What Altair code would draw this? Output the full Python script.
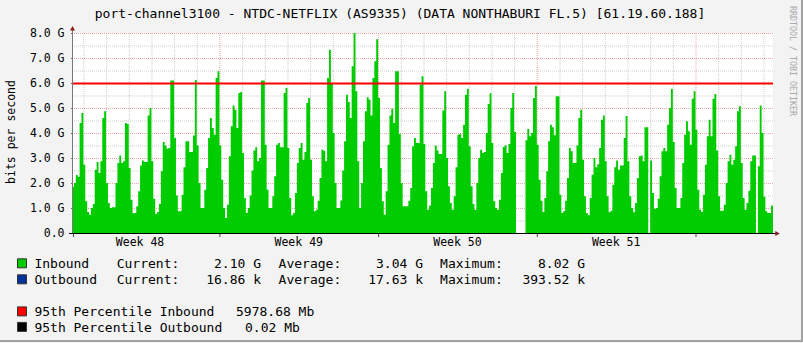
import altair as alt
import pandas as pd

# ---------------- data (values in Gbit/s, one value every 2 hours) ----------------
# week 48 starts Monday 12:00, later weeks start Monday 00:00
week48 = [1.85, 2.0, 2.32, 2.25, 4.4, 4.8,
          2.73, 1.27, 0.84, 0.73, 1.0, 1.16, 2.53, 2.84, 2.4, 2.87, 4.6, 4.87,
          2.0, 1.2, 1.0, 1.03, 1.03, 2.0, 2.8, 3.1, 2.8, 2.87, 4.4, 4.36,
          2.6, 1.33, 0.79, 0.8, 1.07, 1.67, 2.7, 2.9, 2.84, 2.84, 4.7, 5.0,
          2.87, 1.37, 0.76, 0.84, 1.16, 2.47, 3.64, 3.5, 3.37, 3.4, 6.1, 6.1,
          3.8, 1.5, 0.87, 0.87, 1.53, 2.63, 3.67, 3.67, 3.24, 3.24, 3.9, 6.12,
          3.5, 2.0, 1.0, 1.0, 1.73, 2.6, 3.8, 4.6, 4.2, 3.93, 6.2, 6.47]
week49 = [3.5, 2.13, 1.0, 0.6, 1.13, 3.07, 4.27, 5.1, 4.93, 4.2, 5.6, 5.64,
          3.2, 1.4, 0.8, 1.0, 1.5, 2.5, 3.3, 3.43, 2.87, 3.0, 6.1, 6.1,
          3.53, 1.73, 1.0, 1.0, 1.47, 2.27, 3.53, 3.6, 3.43, 3.43, 5.6, 5.8,
          3.4, 1.4, 0.71, 0.8, 1.6, 2.8, 3.4, 3.6, 2.93, 3.24, 5.2, 5.4,
          2.93, 1.47, 0.87, 0.93, 1.29, 2.2, 3.33, 3.29, 2.87, 6.2, 7.33, 6.0,
          4.0, 2.0, 1.0, 1.0, 1.3, 2.5, 3.67, 5.53, 5.24, 4.6, 6.67, 8.0,
          5.67, 2.87, 1.0, 2.0, 3.67, 4.87, 5.43, 5.33, 4.7, 6.2, 6.87, 7.75]
week50 = [5.4, 2.6, 1.27, 0.73, 1.67, 3.53, 4.7, 4.97, 4.4, 6.47, 6.47, 3.96,
          2.0, 1.07, 1.07, 1.07, 1.29, 1.8, 3.47, 3.8, 3.6, 3.6, 5.93, 6.27,
          3.56, 1.67, 0.93, 1.1, 1.8, 2.8, 3.5, 3.3, 3.16, 3.16, 4.9, 5.67,
          3.0, 1.87, 1.2, 0.93, 1.47, 2.63, 3.93, 3.96, 3.8, 4.33, 5.53, 5.77,
          3.47, 1.87, 1.16, 0.93, 2.0, 3.0, 3.33, 3.2, 3.24, 4.0, 5.16, 5.59,
          3.6, 1.27, 1.0, 0.93, 1.33, 2.4, 3.44, 3.51, 3.2, 3.56, 5.0, 5.6,
          4.04, 0, 0, 0, 0, 0, 3.71, 4.16, 3.87, 4.0, 5.4, 5.88]
week51 = [3.53, 2.13, 1.29, 0.84, 1.4, 2.47, 3.67, 4.33, 4.23, 3.91, 5.47, 5.47,
          1.53, 0.8, 0.87, 1.29, 2.2, 3.4, 3.27, 2.8, 2.8, 3.5, 4.6, 4.93,
          2.93, 1.47, 0.8, 0.71, 1.4, 2.33, 3.0, 2.63, 2.75, 3.4, 4.53, 4.7,
          2.87, 1.47, 0.83, 0.89, 1.93, 2.63, 2.9, 2.53, 2.7, 2.7, 3.8, 4.68,
          2.87, 1.47, 1.0, 0.83, 1.2, 2.2, 3.07, 3.1, 2.87, 4.23, 4.23, 0,
          2.9, 1.6, 0.97, 1.0, 1.37, 2.27, 3.27, 3.4, 3.27, 4.33, 5.0, 5.76,
          3.64, 1.8, 1.0, 1.0, 1.4, 2.8, 3.93, 4.47, 4.07, 3.53, 5.37, 5.67]
week52 = [4.13, 1.73, 0.93, 0.84, 1.53, 2.73, 3.87, 4.53, 3.87, 5.37, 5.56, 3.3,
          1.47, 0.89, 0.89, 1.13, 2.0, 2.87, 3.13, 2.73, 2.93, 3.47, 4.87, 5.07,
          2.8, 1.4, 0.93, 1.2, 1.69, 2.87, 3.1, 3.1, 0, 2.67, 5.1, 4.0,
          1.45, 0.87, 0.8, 0.8, 1.1, 1.1]

week_names = ["Week 48", "Week 49", "Week 50", "Week 51"]
y_tick_values = [0, 1, 2, 3, 4, 5, 6, 7, 8]
y_tick_labels = ["0.0", "1.0 G", "2.0 G", "3.0 G", "4.0 G", "5.0 G", "6.0 G", "7.0 G", "8.0 G"]
p95_inbound_gbps = 5.97868

title_text = "port-channel3100 - NTDC-NETFLIX (AS9335) (DATA NONTHABURI FL.5) [61.19.60.188]"
y_title = "bits per second"
watermark = "RRDTOOL / TOBI OETIKER"
row_labels = ["Inbound", "Outbound"]
current_vals = ["2.10 G", "16.86 k"]
average_vals = ["3.04 G", "17.63 k"]
maximum_vals = ["8.02 G", "393.52 k"]
pct_labels = ["95th Percentile Inbound", "95th Percentile Outbound"]
pct_vals = ["5978.68 Mb", "0.02 Mb"]
swatch_colors = ["#00CC00", "#00339A", "#FF0000", "#000000"]

# ---------------- build tables ----------------
rows = []
for i, v in enumerate(week48):
    rows.append({"t": 12 + 2 * i, "v": v})
for w, arr in enumerate([week49, week50, week51, week52], start=1):
    for i, v in enumerate(arr):
        rows.append({"t": 168 * w + 2 * i, "v": v})
df = pd.DataFrame(rows)

day_lines = [24 * k for k in range(1, 32) if k % 7 != 0]
week_lines = [168 * k for k in range(1, 5)]
y_minor = [i + 0.5 for i in range(8)]
y_major = [1, 2, 3, 4, 5, 6, 7, 8]

MONO = "DejaVu Sans Mono"
X0, Y0 = 73, 33  # plot origin in the page
GRID_MAJOR = "#EBA3A3"
GRID_MINOR = "#CDCDCD"

xscale = alt.Scale(domain=[13, 754.05], nice=False, zero=False)
yscale = alt.Scale(domain=[0, 8], nice=False)


def one(d):
    return alt.Chart(pd.DataFrame(d))


def vgrid(vals, color):
    return one({"g": vals}).mark_rule(color=color, strokeDash=[1, 1], strokeWidth=1, xOffset=0.5).encode(
        x=alt.X("g:Q", scale=xscale, axis=None))


def hgrid(vals, color):
    return one({"g": vals}).mark_rule(color=color, strokeDash=[1, 1], strokeWidth=1, yOffset=0.5).encode(
        y=alt.Y("g:Q", scale=yscale, axis=None))


area = alt.Chart(df).mark_area(color="#00CC00", interpolate="step-after", clip=True).encode(
    x=alt.X("t:Q", scale=xscale, axis=None),
    y=alt.Y("v:Q", scale=yscale, axis=None),
)

p95 = one({"p": [p95_inbound_gbps]}).mark_rule(color="#FF0000", strokeWidth=2).encode(
    y=alt.Y("p:Q", scale=yscale, axis=None)
)

week_df = pd.DataFrame({"name": week_names, "c": [168 * i + 84 for i in range(len(week_names))]})
week_labels = alt.Chart(week_df).mark_text(font=MONO, fontSize=11.5, color="#000", align="center",
                                            baseline="alphabetic").encode(
    x=alt.X("c:Q", scale=xscale, axis=None), text="name:N", y=alt.value(246 - Y0))

week_ticks = one({"g": [13] + week_lines}).mark_rule(color="#444444", strokeWidth=1, xOffset=0.5).encode(
    x=alt.X("g:Q", scale=xscale, axis=None), y=alt.value(200), y2=alt.value(204))

ylab_df = pd.DataFrame({"g": y_tick_values, "lab": y_tick_labels})
y_labels = alt.Chart(ylab_df).mark_text(font=MONO, fontSize=11.5, color="#000", align="right",
                                         baseline="middle", dy=0.5).encode(
    y=alt.Y("g:Q", scale=yscale, axis=None), text="lab:N", x=alt.value(64.5 - X0))
y_ticks = alt.Chart(ylab_df).mark_rule(color="#666666", strokeWidth=1, yOffset=0.5).encode(
    y=alt.Y("g:Q", scale=yscale, axis=None), x=alt.value(-2), x2=alt.value(0))


def txt(s, x, y, align="left", size=13, color="#000", angle=0):
    kw = dict(font=MONO, fontSize=size, color=color, align=align, baseline="alphabetic")
    if angle:
        kw["angle"] = angle
    return one({"s": [s]}).mark_text(**kw).encode(text="s:N", x=alt.value(x - X0), y=alt.value(y - Y0))


def rule(x1, y1, x2, y2, color, width=1):
    return one({"a": [0]}).mark_rule(color=color, strokeWidth=width).encode(
        x=alt.value(x1 - X0), y=alt.value(y1 - Y0), x2=alt.value(x2 - X0), y2=alt.value(y2 - Y0))


def square(cx, cy, color):
    return one({"a": [0]}).mark_square(size=81, color=color, opacity=1, stroke="#333", strokeWidth=1).encode(
        x=alt.value(cx - X0), y=alt.value(cy - Y0))


layers = [hgrid(y_minor, GRID_MINOR), vgrid(day_lines, GRID_MINOR),
          hgrid(y_major, GRID_MAJOR), vgrid(week_lines, GRID_MAJOR),
          area, p95, week_labels, week_ticks, y_labels, y_ticks]

# axes lines and arrows
layers.append(rule(72.5, 30, 72.5, 233, "#777777"))
layers.append(rule(69, 233.5, 777, 233.5, "#000000"))
layers.append(one({"a": [0]}).mark_point(shape="triangle-up", filled=True, size=26, color="#8B1A1A", opacity=1).encode(
    x=alt.value(72.5 - X0), y=alt.value(28.3 - Y0)))
layers.append(one({"a": [0]}).mark_point(shape="triangle-right", filled=True, size=26, color="#8B1A1A", opacity=1).encode(
    x=alt.value(777.5 - X0), y=alt.value(233.5 - Y0)))

# frame
layers.append(rule(802, 0, 802, 342, "#A2A2A2", 2))
layers.append(rule(0, 341, 803, 341, "#A2A2A2", 2))

# titles
layers.append(txt(title_text, 400, 18.3, align="center"))
layers.append(txt(y_title, 15, 132, align="center", size=11.5, angle=270))
layers.append(txt(watermark, 790, 6, align="left", size=8.3, color="#A8A8A8", angle=90))

# legend
row_base = [267.7, 283.7]
for i in range(2):
    b = row_base[i]
    layers.append(square(22, b - 4.4, swatch_colors[i]))
    layers.append(txt(row_labels[i], 34.4, b))
    layers.append(txt("Current:", 116.7, b))
    layers.append(txt(current_vals[i], 261, b, align="right"))
    layers.append(txt("Average:", 278.6, b))
    layers.append(txt(average_vals[i], 423, b, align="right"))
    layers.append(txt("Maximum:", 440.1, b))
    layers.append(txt(maximum_vals[i], 585, b, align="right"))

pct_base = [316, 331.5]
pct_x = [236, 245]
for i in range(2):
    b = pct_base[i]
    layers.append(square(22, b - 4.6, swatch_colors[2 + i]))
    layers.append(txt(pct_labels[i], 34.4, b))
    layers.append(txt(pct_vals[i], pct_x[i], b))

chart = alt.layer(*layers).properties(
    width=700, height=200,
    padding={"left": 73, "top": 33, "right": 30, "bottom": 110},
    autosize=alt.AutoSizeParams(type="none"),
    background="#F3F3F3",
).configure_view(fill="#FFFFFF", strokeWidth=0)

chart.save("out.html", embed_options={"renderer": "svg", "actions": False})
